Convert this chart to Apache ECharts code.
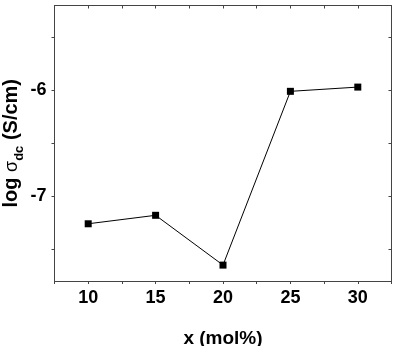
<!DOCTYPE html>
<html><head><meta charset="utf-8">
<script src="https://cdn.jsdelivr.net/npm/echarts@6/dist/echarts.min.js"></script>
<style>html,body{margin:0;padding:0;background:#fff}#c{width:396px;height:346px}</style>
</head><body><div id="c"></div>
<script>
const xValues = [10, 15, 20, 25, 30];
const logSigma = [-7.26, -7.18, -7.65, -6.01, -5.97];
const xTickLabels = [10, 15, 20, 25, 30];
const xTicks = [7.5, 10, 12.5, 15, 17.5, 20, 22.5, 25, 27.5, 30, 32.5];
const yTickLabels = [-6, -7];
const yTicks = [-5.5, -6, -6.5, -7, -7.5];

const chart = echarts.init(document.getElementById('c'), null, {renderer: 'canvas'});
const axisColor = '#444';
const font = 'Liberation Sans, Arial, sans-serif';
const common = {
  axisLine: {show: true, onZero: false, lineStyle: {color: axisColor, width: 1}},
  splitLine: {show: false}
};
chart.setOption({
  animation: false,
  backgroundColor: '#fff',
  grid: {left: 54.5, right: 4.5, top: 5.5, bottom: 65, containLabel: false, outerBoundsMode: 'none'},
  xAxis: [{
    type: 'value', min: 7.5, max: 32.5, position: 'bottom', ...common,
    axisTick: {show: true, inside: false, length: 3, customValues: xTicks, lineStyle: {color: axisColor}},
    axisLabel: {customValues: xTickLabels, margin: 8, color: '#000', fontSize: 18, fontWeight: 'bold', fontFamily: font},
    name: 'x (mol%)', nameLocation: 'middle', nameGap: 48, nameMoveOverlap: false,
    nameTextStyle: {color: '#000', fontSize: 19, fontWeight: 'bold', fontFamily: font}
  }, {
    type: 'value', min: 7.5, max: 32.5, position: 'top', ...common,
    axisTick: {show: true, inside: true, length: 3, customValues: xTicks, lineStyle: {color: axisColor}},
    axisLabel: {show: false}
  }],
  yAxis: [{
    type: 'value', min: -7.8, max: -5.2, position: 'left', ...common,
    axisTick: {show: true, inside: false, length: 3, customValues: yTicks, lineStyle: {color: axisColor}},
    axisLabel: {customValues: yTickLabels, margin: 8, color: '#000', fontSize: 18, fontWeight: 'bold', fontFamily: font},
    name: '{n|log }{g|σ}{s|dc}{n| (S/cm)}', nameLocation: 'middle', nameGap: 33, nameRotate: 90, nameMoveOverlap: false,
    nameTextStyle: {
      color: '#000', fontFamily: font,
      rich: {
        n: {fontSize: 20, fontWeight: 'bold', fontFamily: font, color: '#000', verticalAlign: 'bottom'},
        g: {fontSize: 18, fontWeight: 'normal', fontFamily: font, color: '#000', verticalAlign: 'bottom'},
        s: {fontSize: 13, fontWeight: 'bold', fontFamily: font, color: '#000', verticalAlign: 'bottom', padding: [0, 0, -4, 0]}
      }
    }
  }, {
    type: 'value', min: -7.8, max: -5.2, position: 'right', ...common,
    axisTick: {show: true, inside: true, length: 3, customValues: yTicks, lineStyle: {color: axisColor}},
    axisLabel: {show: false}
  }],
  series: [{
    type: 'line',
    data: xValues.map((x, i) => [x, logSigma[i]]),
    symbol: 'rect', symbolSize: 7,
    lineStyle: {color: '#000', width: 1},
    itemStyle: {color: '#000'}
  }]
});
</script></body></html>
